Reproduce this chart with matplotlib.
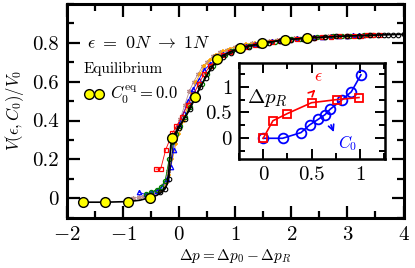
import numpy as np
import matplotlib
matplotlib.use('Agg')
import matplotlib.pyplot as plt
from matplotlib.lines import Line2D
from matplotlib.ticker import MultipleLocator

plt.rcParams['font.family'] = 'serif'
plt.rcParams['font.serif'] = ['cmr10']
plt.rcParams['mathtext.fontset'] = 'cm'
plt.rcParams['axes.unicode_minus'] = False
plt.rcParams['axes.formatter.use_mathtext'] = True

# --- данные главного графика ---
eq_x = [-1.72, -1.32, -0.92, -0.52, -0.12, 0.28, 0.68, 1.08, 1.48, 1.88, 2.28]
eq_y = [-0.02, -0.02, -0.017, 0.004, 0.31, 0.52, 0.716, 0.773, 0.798, 0.815, 0.824]

eq_line_x = [-1.72, -1.32, -0.92, -0.7, -0.52, -0.4, -0.3, -0.25, -0.21, -0.19, -0.17,
             -0.15, -0.12, 0.0, 0.15, 0.28, 0.47, 0.68, 0.85, 1.08, 1.48, 1.88, 2.28,
             2.8, 3.3, 3.7, 4.0]
eq_line_y = [-0.02, -0.02, -0.017, -0.01, 0.004, 0.015, 0.033, 0.05, 0.076, 0.12, 0.2,
             0.27, 0.31, 0.37, 0.44, 0.52, 0.62, 0.716, 0.745, 0.773, 0.798, 0.815, 0.824,
             0.832, 0.837, 0.841, 0.843]

rb_x = [-0.82, -0.72, -0.62, -0.52, -0.44, -0.36, -0.28, -0.2, -0.12, -0.05, 0.02, 0.1,
        0.18, 0.26, 0.34, 0.42, 0.5, 0.6, 0.72, 0.85, 1.0, 1.15, 1.3, 1.45, 1.6, 1.75,
        1.9, 2.05, 2.2, 2.35, 2.5, 2.65, 2.8, 2.95, 3.1]
rb_y = [0.0, 0.005, 0.01, 0.02, 0.03, 0.045, 0.07, 0.14, 0.3, 0.36, 0.41, 0.48,
        0.55, 0.6, 0.64, 0.68, 0.70, 0.73, 0.75, 0.765, 0.78, 0.79, 0.797, 0.804, 0.81, 0.814,
        0.818, 0.822, 0.825, 0.827, 0.83, 0.832, 0.834, 0.835, 0.836]

or_x = [-0.3, -0.22, -0.18, -0.12, -0.06, 0.0, 0.08, 0.15, 0.22, 0.3, 0.37, 0.45, 0.55,
        0.65, 0.78, 0.9, 1.05, 1.2, 1.35, 1.5, 1.65, 1.8, 1.95, 2.1, 2.25, 2.4, 2.55, 2.7,
        2.85, 3.0, 3.12]
or_y = [0.04, 0.08, 0.12, 0.2, 0.28, 0.33, 0.40, 0.47, 0.54, 0.60, 0.64, 0.68, 0.71,
        0.735, 0.755, 0.77, 0.782, 0.792, 0.80, 0.806, 0.81, 0.815, 0.818, 0.822, 0.825, 0.827,
        0.83, 0.832, 0.833, 0.835, 0.836]

bl_x = [-0.71, -0.6, -0.5, -0.4, -0.3, -0.22, -0.15, -0.1, -0.07, 0.0, 0.08, 0.16, 0.25,
        0.35, 0.45, 0.55, 0.65, 0.78, 0.9, 1.05, 1.2, 1.35, 1.5, 1.65, 1.8, 1.95, 2.1, 2.25,
        2.4, 2.55, 2.7, 2.85, 3.0, 3.1, 3.2, 3.28]
bl_y = [0.03, 0.02, 0.03, 0.04, 0.06, 0.1, 0.16, 0.25, 0.33, 0.38, 0.44, 0.5, 0.56,
        0.61, 0.66, 0.69, 0.715, 0.74, 0.755, 0.77, 0.785, 0.795, 0.802, 0.808, 0.813, 0.818,
        0.822, 0.825, 0.828, 0.83, 0.833, 0.835, 0.837, 0.838, 0.839, 0.84]

rd_x = [-0.41, -0.33, -0.24, -0.12, -0.05, 0.05, 0.15, 0.25, 0.35, 0.45, 0.55, 0.65, 0.78,
        0.9, 1.05, 1.2, 1.35, 1.5, 1.65, 1.8, 1.95, 2.1, 2.25, 2.4, 2.55, 2.7, 2.85, 3.0,
        3.12, 3.24, 3.35, 3.46, 3.58]
rd_y = [0.15, 0.15, 0.25, 0.335, 0.37, 0.42, 0.48, 0.53, 0.59, 0.64, 0.68, 0.71, 0.735,
        0.752, 0.768, 0.78, 0.79, 0.798, 0.805, 0.81, 0.815, 0.82, 0.823, 0.826, 0.829, 0.831,
        0.833, 0.835, 0.836, 0.837, 0.838, 0.839, 0.84]

gr_x = [-0.6, -0.5, -0.4, -0.32, -0.25, -0.18, -0.12, -0.06, 0.02, 0.1, 0.2, 0.3, 0.4,
        0.5, 0.6, 0.7, 0.82, 0.95, 1.1, 1.25, 1.4, 1.55, 1.7, 1.85, 2.0, 2.15, 2.3, 2.45,
        2.6, 2.75, 2.9, 3.05, 3.18, 3.3, 3.38, 3.46]
gr_y = [0.02, 0.03, 0.045, 0.06, 0.09, 0.2, 0.29, 0.33, 0.37, 0.42, 0.47, 0.53, 0.59,
        0.64, 0.68, 0.71, 0.735, 0.755, 0.77, 0.783, 0.793, 0.80, 0.806, 0.812, 0.817, 0.821,
        0.824, 0.827, 0.83, 0.832, 0.834, 0.836, 0.837, 0.838, 0.839, 0.84]

bk_x = [-0.35, -0.25, -0.18, -0.1, 0.0, 0.1, 0.2, 0.3, 0.38, 0.47, 0.56, 0.66, 0.78, 0.92,
        1.08, 1.25, 1.42, 1.6, 1.8, 2.0, 2.2, 2.4, 2.6, 2.8, 3.0, 3.2, 3.4, 3.55, 3.65, 3.73,
        3.82, 3.91, 4.0]
bk_y = [0.03, 0.05, 0.1, 0.3, 0.36, 0.41, 0.46, 0.52, 0.57, 0.62, 0.67, 0.70, 0.725, 0.745,
        0.765, 0.778, 0.79, 0.80, 0.81, 0.816, 0.821, 0.825, 0.829, 0.832, 0.835, 0.837, 0.839,
        0.84, 0.841, 0.841, 0.842, 0.842, 0.843]

# --- данные вставки ---
eps_x = [0.0, 0.1, 0.25, 0.5, 0.76, 0.99]
eps_y = [0.0, 0.34, 0.48, 0.69, 0.75, 0.79]
c0_x = [0.0, 0.2, 0.39, 0.48, 0.57, 0.64, 0.69, 0.81, 0.91, 1.01]
c0_y = [0.0, 0.0, 0.11, 0.26, 0.37, 0.46, 0.56, 0.74, 0.90, 1.23]

fig = plt.figure(figsize=(4.15, 2.68), dpi=100)
ax = fig.add_axes([0.1614, 0.1875, 0.811, 0.7983])

# серии
ax.plot(rb_x, rb_y, '-', color='rosybrown', lw=0.6, marker=(6, 2, 0), ms=3.5, mew=0.9)
ax.plot(or_x, or_y, '-', color='orange', lw=0.6, marker='+', ms=3.5, mew=1.1)
ax.plot(bl_x, bl_y, '-', color='blue', lw=0.6, marker='^', ms=3.2, mfc='none', mew=0.9)
ax.plot(gr_x, gr_y, '-', color='green', lw=0.6, marker='o', ms=3.0, mfc='none', mew=0.9)
ax.plot(rd_x, rd_y, '-', color='red', lw=0.6, marker='s', ms=3.2, mfc='none', mew=0.9)
ax.plot(bk_x, bk_y, '-', color='black', lw=0.6, marker='o', ms=3.3, mfc='none', mew=0.8)

ax.plot(eq_line_x, eq_line_y, '-', color='black', lw=1.2, zorder=5)
ax.plot(eq_x, eq_y, 'o', color='black', mfc='yellow', ms=7, mew=1.0, ls='none', zorder=6)

ax.set_xlim(-2, 4)
ax.set_ylim(-0.1, 1.0)
ax.xaxis.set_major_locator(MultipleLocator(1))
ax.xaxis.set_minor_locator(MultipleLocator(0.5))
ax.yaxis.set_minor_locator(MultipleLocator(0.1))
ax.set_yticks([0, 0.2, 0.4, 0.6, 0.8])
ax.set_yticklabels(['0', '0.2', '0.4', '0.6', '0.8'])
ax.tick_params(which='both', direction='in', top=True, right=True, labelsize=15)
ax.tick_params(which='major', length=9, width=1.6, pad=6)
ax.tick_params(which='minor', length=5, width=1.6)
for s in ax.spines.values():
    s.set_linewidth(2.2)

ax.set_xlabel(r'$\Delta p = \Delta p_0 - \Delta p_R$', fontsize=11, labelpad=2)
ax.set_ylabel(r'$V(\epsilon, C_0)/V_0$', fontsize=12, labelpad=4)

ax.text(-0.54, 0.80, r'$\epsilon\ =\ 0N\ \rightarrow\ 1N$', fontsize=13, ha='center', va='center')

h = Line2D([], [], color='black', lw=1.2, marker='o', mfc='yellow', mec='black', ms=7)
leg = ax.legend([h], [r'$C_0^{\rm eq} = 0.0$'], title='Equilibrium', loc='upper left',
                bbox_to_anchor=(0.015, 0.785), frameon=False, fontsize=12, numpoints=2,
                handlelength=1.2, handletextpad=0.4, title_fontsize=11, alignment='left',
                borderpad=0.2)

# вставка
ins = fig.add_axes([0.576, 0.407, 0.352, 0.358])
ins.plot(eps_x, eps_y, '-', color='red', lw=1.2, marker='s', ms=6, mfc='none', mew=1.3, zorder=3)
ins.plot(c0_x, c0_y, '-', color='blue', lw=1.2, marker='o', ms=7, mfc='none', mew=1.3)
ins.set_xlim(-0.25, 1.26)
ins.set_ylim(-0.4, 1.46)
ins.xaxis.set_minor_locator(MultipleLocator(0.25))
ins.yaxis.set_minor_locator(MultipleLocator(0.25))
ins.set_xticks([0, 0.5, 1])
ins.set_xticklabels(['0', '0.5', '1'])
ins.set_yticks([0, 0.5, 1])
ins.set_yticklabels(['0', '0.5', '1'])
ins.tick_params(which='both', direction='in', top=True, right=True, labelsize=15)
ins.tick_params(which='major', length=7, width=1.4, pad=5)
ins.tick_params(which='minor', length=4, width=1.4)
for s in ins.spines.values():
    s.set_linewidth(1.8)

ins.text(-0.17, 0.78, r'$\Delta p_R$', fontsize=15, ha='left', va='center')
ins.text(0.57, 1.19, r'$\epsilon$', fontsize=13, color='red', ha='center', va='center')
ins.text(0.87, -0.09, r'$C_0$', fontsize=12, color='blue', ha='center', va='center')
ins.annotate('', xy=(0.56, 0.98), xytext=(0.50, 0.87),
             arrowprops=dict(arrowstyle='->', color='red', lw=1.2))
ins.annotate('', xy=(0.74, 0.07), xytext=(0.69, 0.31),
             arrowprops=dict(arrowstyle='->', color='blue', lw=1.2))

fig.savefig('out.png', dpi=100)
